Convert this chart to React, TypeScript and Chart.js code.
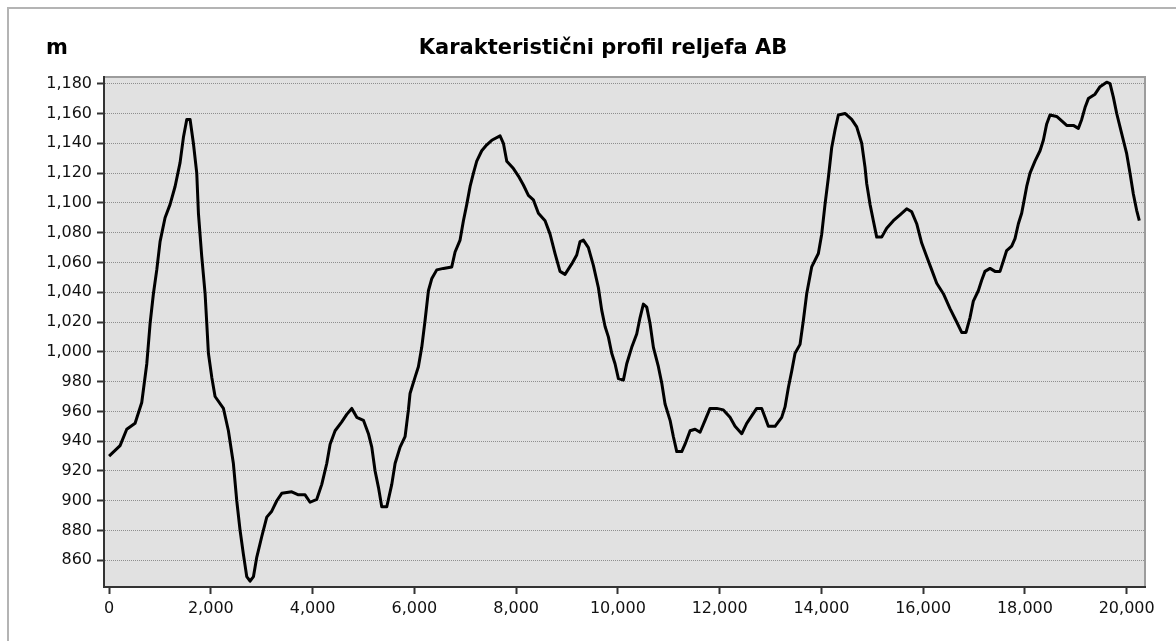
import React, { useEffect, useRef } from "react";
import { Chart, registerables } from "chart.js";

Chart.register(...registerables);

const TITLE = "Karakteristični profil reljefa AB";
const Y_UNIT = "m";

// distance along profile (m)
const distances = [
  0, 216, 347, 511, 642, 741, 806, 871, 937, 1002, 1100, 1199, 1297, 1395, 1461, 1527, 1592, 1657, 1723, 1756,
  1821, 1887, 1920, 1952, 2018, 2083, 2247, 2345, 2443, 2509, 2575, 2640, 2706, 2771, 2837, 2902, 3001, 3099,
  3197, 3296, 3394, 3590, 3721, 3852, 3950, 4082,
  4180, 4278, 4344, 4442, 4573, 4671, 4770, 4868, 4999, 5097, 5163, 5228, 5294, 5359, 5458, 5556, 5621, 5719,
  5817, 5883, 5915, 6014, 6079, 6145, 6210, 6276, 6341, 6440, 6571, 6735, 6800, 6898, 6964, 7030, 7095, 7161,
  7226, 7324, 7423, 7521, 7684, 7750, 7816, 7947, 8045, 8143,
  8241, 8339, 8438, 8569, 8667, 8765, 8863, 8961, 9093, 9191, 9256, 9322, 9420, 9518, 9617, 9682, 9748, 9813,
  9879, 9944, 10010, 10108, 10174, 10272, 10370, 10436, 10501, 10567, 10632, 10698, 10796, 10862, 10927, 11026,
  11091, 11157, 11255, 11320, 11419, 11517, 11615, 11713, 11811, 11942, 12073, 12204, 12303,
  12434, 12532, 12630, 12728, 12827, 12892, 12957, 13089, 13220, 13285, 13351, 13416, 13482, 13580, 13645, 13711,
  13809, 13940, 14006, 14071, 14137, 14202, 14268, 14333, 14464, 14595, 14694, 14792, 14857, 14890, 14956, 15021,
  15087, 15185, 15283, 15414, 15545, 15676, 15775, 15873, 15971, 16069, 16168, 16266, 16397, 16528,
  16659, 16757, 16842, 16921, 16986, 17084, 17150, 17215, 17314, 17412, 17510, 17576, 17641, 17740, 17805, 17871,
  17936, 17969, 18035, 18100, 18198, 18297, 18362, 18428, 18493, 18624, 18723, 18821, 18952, 19050, 19116, 19181,
  19247, 19378, 19476, 19607, 19673, 19738, 19804, 19869, 19935, 20000, 20065, 20131, 20196, 20248,
];

// elevation (m)
const elevations = [
  930, 937, 948, 952, 966, 992, 1019, 1039, 1055, 1074, 1090, 1099, 1111, 1127, 1144, 1156, 1156, 1140, 1120, 1093,
  1064, 1039, 1019, 999, 983, 970, 962, 947, 925, 900, 880, 864, 849, 846, 849, 862, 876, 889,
  893, 900, 905, 906, 904, 904, 899, 901,
  911, 925, 938, 947, 953, 958, 962, 956, 954, 945, 936, 920, 909, 896, 896, 911, 925, 936,
  943, 961, 972, 983, 990, 1003, 1021, 1041, 1049, 1055, 1056, 1057, 1067, 1075, 1088, 1099, 1111, 1120,
  1128, 1135, 1139, 1142, 1145, 1140, 1128, 1123, 1118, 1112,
  1105, 1102, 1093, 1088, 1079, 1066, 1054, 1052, 1059, 1065, 1074, 1075, 1070, 1058, 1043, 1028, 1017, 1010,
  999, 992, 982, 981, 992, 1003, 1012, 1023, 1032, 1030, 1019, 1003, 990, 979, 965, 954,
  943, 933, 933, 938, 947, 948, 946, 954, 962, 962, 961, 956, 950,
  945, 952, 957, 962, 962, 956, 950, 950, 956, 963, 976, 987, 999, 1005, 1021, 1039,
  1057, 1066, 1079, 1099, 1117, 1137, 1149, 1159, 1160, 1156, 1151, 1140, 1124, 1113, 1099, 1088,
  1077, 1077, 1083, 1088, 1092, 1096, 1094, 1086, 1073, 1064, 1055, 1046, 1039, 1029,
  1020, 1013, 1013, 1023, 1034, 1041, 1048, 1054, 1056, 1054, 1054, 1061, 1068, 1071, 1076, 1086,
  1093, 1099, 1111, 1120, 1128, 1135, 1142, 1153, 1159, 1158, 1155, 1152, 1152, 1150, 1156, 1164,
  1170, 1173, 1178, 1181, 1180, 1171, 1160, 1151, 1142, 1133, 1120, 1106, 1095, 1088,
];

const xTickValues = [0, 2000, 4000, 6000, 8000, 10000, 12000, 14000, 16000, 18000, 20000];
const yTickValues = [
  860, 880, 900, 920, 940, 960, 980, 1000, 1020, 1040, 1060, 1080, 1100, 1120, 1140, 1160, 1180,
];

const X_MIN = -100;
const X_MAX = 20360;
const Y_MIN = 842.1;
const Y_MAX = 1184.5;

const fmt = (v: number | string) => Number(v).toLocaleString("en-US");

export default function App() {
  const ref = useRef<HTMLCanvasElement>(null);

  useEffect(() => {
    const canvas = ref.current;
    if (!canvas) return;

    const tickFont = { family: "'DejaVu Sans', Tahoma, sans-serif", size: 16 };

    const plotPlugin = {
      id: "plotBg",
      beforeDraw(chart: any) {
        const { ctx, chartArea } = chart;
        const { left, top, right, bottom } = chartArea;
        ctx.save();
        ctx.fillStyle = "#e1e1e1";
        ctx.fillRect(left, top, right - left, bottom - top);
        ctx.strokeStyle = "#9c9c9c";
        ctx.lineWidth = 2;
        ctx.strokeRect(left, top, right - left, bottom - top);
        ctx.restore();
      },
      afterDraw(chart: any) {
        const { ctx } = chart;
        ctx.save();
        ctx.fillStyle = "#000";
        ctx.font = "bold 21px 'DejaVu Sans', Tahoma, sans-serif";
        ctx.textBaseline = "middle";
        ctx.textAlign = "left";
        ctx.fillText(Y_UNIT, 46, 49);
        ctx.textAlign = "center";
        ctx.fillText(TITLE, 603, 49);
        ctx.restore();
      },
    };

    const chart = new Chart(canvas, {
      type: "line",
      data: {
        datasets: [
          {
            data: distances.map((x, i) => ({ x, y: elevations[i] })),
            borderColor: "#000",
            borderWidth: 3,
            pointRadius: 0,
            tension: 0,
            fill: false,
            borderJoinStyle: "round",
          },
        ],
      },
      options: {
        responsive: false,
        animation: false,
        devicePixelRatio: 1,
        layout: { padding: { left: 0, right: 31, top: 77, bottom: 0 } },
        plugins: {
          legend: { display: false },
          tooltip: { enabled: false },
          title: { display: false },
        },
        scales: {
          x: {
            type: "linear",
            min: X_MIN,
            max: X_MAX,
            afterBuildTicks: (s: any) => {
              s.ticks = xTickValues.map((v) => ({ value: v }));
            },
            afterFit: (s: any) => {
              s.height = 54;
            },
            ticks: {
              font: tickFont,
              color: "#111",
              padding: 5,
              maxRotation: 0,
              autoSkip: false,
              callback: (v: any) => fmt(v),
            },
            grid: {
              drawOnChartArea: false,
              drawTicks: true,
              tickLength: 7,
              tickColor: "#333",
              tickWidth: 2,
            },
            border: { display: true, color: "#333", width: 2 },
          },
          y: {
            type: "linear",
            min: Y_MIN,
            max: Y_MAX,
            afterBuildTicks: (s: any) => {
              s.ticks = yTickValues.map((v) => ({ value: v }));
            },
            afterFit: (s: any) => {
              s.width = 104;
            },
            ticks: {
              font: tickFont,
              color: "#111",
              padding: 5,
              autoSkip: false,
              callback: (v: any) => fmt(v),
            },
            grid: {
              color: "#8e8e8e",
              lineWidth: 1,
              drawTicks: true,
              tickLength: 7,
              tickColor: "#333",
              tickWidth: 2,
            },
            border: { display: true, color: "#333", width: 2, dash: [1, 1] },
          },
        },
      },
      plugins: [plotPlugin],
    } as any);

    return () => chart.destroy();
  }, []);

  return (
    <div
      style={{
        position: "fixed",
        left: 0,
        top: 0,
        width: 1176,
        height: 641,
        overflow: "hidden",
        background: "#fff",
      }}
    >
      <div
        style={{
          position: "absolute",
          left: 7,
          top: 7,
          width: 1220,
          height: 700,
          borderLeft: "2px solid #b4b4b4",
          borderTop: "2px solid #b4b4b4",
        }}
      />
      <canvas
        ref={ref}
        width={1176}
        height={641}
        style={{ position: "absolute", left: 0, top: 0, width: 1176, height: 641 }}
      />
    </div>
  );
}
